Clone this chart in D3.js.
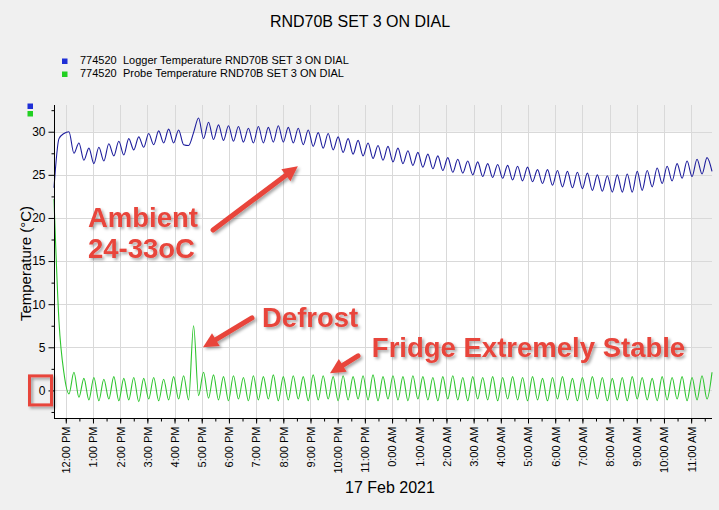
<!DOCTYPE html>
<html>
<head>
<meta charset="utf-8">
<script src="https://cdn.jsdelivr.net/npm/d3@7"></script>
<style>
  html, body { margin: 0; padding: 0; background: #f0f0f0; }
  svg { display: block; font-family: "Liberation Sans", Arial, sans-serif; }
</style>
</head>
<body>
<svg id="chart" width="719" height="510"></svg>
<script>
const chartTitle = 'RND70B SET 3 ON DIAL';
const loggerSerial = '774520';
const seriesNames = ['Logger Temperature RND70B SET 3 ON DIAL', 'Probe Temperature RND70B SET 3 ON DIAL'];
const dateLabel = '17 Feb 2021';
const yTitle = 'Temperature (°C)';
const yTickValues = [0, 5, 10, 15, 20, 25, 30];

const startTime = new Date(2021, 1, 17, 11, 34);
const stepMinutes = 11;

// logger (ambient) temperature, one reading per step
const loggerTemp = [
  23.5, 29.2, 29.8, 30.0, 27.5, 28.7, 26.7, 28.1, 26.3, 28.2,
  26.6, 28.6, 27.2, 28.9, 27.3, 29.2, 27.9, 29.4, 28.2, 29.8,
  28.5, 30.1, 28.7, 30.3, 28.7, 30.2, 28.5, 28.4, 29.9, 31.6,
  29.2, 31.1, 29.1, 30.8, 29.0, 30.7, 28.9, 30.6, 28.8, 30.4,
  28.7, 30.6, 28.7, 30.5, 28.8, 30.7, 28.8, 30.5, 28.7, 30.4,
  28.5, 30.2, 28.3, 29.9, 28.1, 29.8, 27.9, 29.4, 27.6, 29.2,
  27.4, 29.0, 27.2, 28.7, 26.9, 28.4, 26.7, 28.3, 26.5, 28.1,
  26.3, 27.8, 26.1, 27.6, 25.9, 27.4, 25.7, 27.2, 25.5, 27.0,
  25.3, 26.8, 25.2, 26.6, 25.0, 26.5, 24.8, 26.3, 24.7, 26.2,
  24.6, 26.1, 24.4, 26.0, 24.3, 25.9, 24.2, 25.6, 24.0, 25.6,
  23.8, 25.5, 23.6, 25.4, 23.5, 25.3, 23.4, 25.2, 23.2, 25.0,
  23.1, 24.9, 23.0, 25.0, 23.0, 25.1, 23.0, 25.4, 23.2, 25.5,
  23.6, 25.8, 24.0, 26.0, 24.3, 26.3, 24.6, 26.6, 24.8, 26.8,
  25.1, 27.0, 25.4
];

// probe (fridge) temperature, same readings
const probeTemp = [
  22.2, 8.0, 2.0, -0.4, 2.1, -0.8, 1.4, -1.1, 1.5, -1.2,
  1.3, -1.0, 1.6, -1.2, 1.4, -1.1, 1.5, -1.3, 1.4, -1.0,
  1.5, -1.2, 1.3, -1.1, 1.6, -1.0, 1.7, -1.1, 7.5, -0.6,
  2.1, -0.9, 1.8, -1.1, 1.6, -1.2, 1.7, -1.0, 1.5, -1.2,
  1.7, -1.1, 1.6, -1.0, 1.8, -1.2, 1.6, -1.1, 1.7, -1.0,
  1.6, -1.2, 1.8, -1.1, 1.7, -1.0, 1.6, -1.2, 1.7, -1.1,
  1.6, -1.0, 1.7, -1.1, 1.8, -1.2, 1.6, -1.0, 1.7, -1.1,
  1.6, -1.2, 1.7, -1.0, 1.6, -1.1, 1.5, -1.2, 1.6, -1.0,
  1.7, -1.1, 1.5, -1.2, 1.6, -1.0, 1.5, -1.1, 1.6, -1.2,
  1.5, -1.0, 1.6, -1.1, 1.5, -1.2, 1.6, -1.1, 1.4, -1.2,
  1.5, -1.0, 1.6, -1.1, 1.4, -1.2, 1.5, -1.1, 1.6, -1.0,
  1.5, -1.2, 1.4, -1.1, 1.5, -1.2, 1.6, -1.0, 1.5, -1.1,
  1.4, -1.2, 1.6, -1.1, 1.5, -1.0, 1.6, -1.2, 1.5, -1.1,
  1.7, -1.0, 2.1
];

// ---- layout ----
const width = 719, height = 510;
const plot = {left: 54, right: 712, top: 105, bottom: 418};
const lineColors = ['#1c1c9c', '#2fc52f'];
const keyColors = ['#1f2fd6', '#22d022'];
const red = '#e8443b';

const timeAt = i => new Date(+startTime + i * stepMinutes * 60000);
const loggerData = loggerTemp.map((v, i) => ({t: timeAt(i), v}));
const probeData = probeTemp.map((v, i) => ({t: timeAt(i), v}));

const x = d3.scaleTime()
  .domain([startTime, timeAt(loggerTemp.length - 1)])
  .range([plot.left, plot.right]);
const y = d3.scaleLinear()
  .domain([-3.2, 33.1])
  .range([plot.bottom, plot.top]);

const svg = d3.select('#chart');

const defs = svg.append('defs');
defs.append('filter')
  .attr('id', 'shadow')
  .attr('x', '-20%').attr('y', '-30%').attr('width', '150%').attr('height', '170%')
  .append('feDropShadow')
  .attr('dx', 2).attr('dy', 2).attr('stdDeviation', 1.6)
  .attr('flood-color', '#000').attr('flood-opacity', 0.35);

// title
svg.append('text')
  .attr('x', 360).attr('y', 27)
  .attr('text-anchor', 'middle')
  .attr('font-size', 16)
  .attr('fill', '#000')
  .text(chartTitle);

// legend
const legend = svg.append('g').attr('font-size', 11).attr('fill', '#000');
seriesNames.forEach((name, i) => {
  const ly = 64 + i * 13;
  legend.append('rect')
    .attr('x', 62).attr('y', ly - 5.5).attr('width', 5.5).attr('height', 5.5)
    .attr('fill', keyColors[i]);
  legend.append('text').attr('x', 80).attr('y', ly).text(loggerSerial);
  legend.append('text').attr('x', 123).attr('y', ly).text(name);
});

// small series markers above y axis
keyColors.forEach((c, i) => {
  svg.append('rect')
    .attr('x', 27.5).attr('y', 103.5 + i * 7.5).attr('width', 5.5).attr('height', 5.5)
    .attr('fill', c);
});

// white plotting zone (up to last full gridlines)
const hourTicks = x.ticks(d3.timeHour.every(1));
const lastHour = hourTicks[hourTicks.length - 1];
svg.append('rect')
  .attr('x', plot.left)
  .attr('y', y(d3.max(yTickValues)))
  .attr('width', x(lastHour) - plot.left)
  .attr('height', plot.bottom - y(d3.max(yTickValues)))
  .attr('fill', '#fff');

// grid
const grid = svg.append('g').attr('stroke', '#d9d9d9').attr('stroke-width', 1);
grid.selectAll('line.v')
  .data(hourTicks)
  .join('line')
  .attr('class', 'v')
  .attr('x1', d => Math.round(x(d)) + 0.5).attr('x2', d => Math.round(x(d)) + 0.5)
  .attr('y1', plot.top).attr('y2', plot.bottom);
grid.selectAll('line.h')
  .data(yTickValues)
  .join('line')
  .attr('class', 'h')
  .attr('x1', plot.left).attr('x2', plot.right)
  .attr('y1', d => Math.round(y(d)) + 0.5).attr('y2', d => Math.round(y(d)) + 0.5);

// series
const line = d3.line()
  .x(d => x(d.t))
  .y(d => y(d.v))
  .curve(d3.curveMonotoneX);

[loggerData, probeData].forEach((data, i) => {
  svg.append('path')
    .datum(data)
    .attr('fill', 'none')
    .attr('stroke', lineColors[i])
    .attr('stroke-width', 1.1)
    .attr('d', line);
});

// y axis
const minorY = d3.range(-2.5, 33, 2.5).filter(v => !yTickValues.includes(v));
svg.append('g')
  .attr('transform', `translate(${plot.left + 0.5},0)`)
  .call(d3.axisLeft(y).tickValues(minorY).tickSize(3).tickSizeOuter(0).tickFormat(''))
  .call(g => g.select('.domain').remove());
svg.append('g')
  .attr('transform', `translate(${plot.left + 0.5},0)`)
  .call(d3.axisLeft(y).tickValues(yTickValues).tickSize(6).tickPadding(3).tickSizeOuter(0))
  .call(g => g.selectAll('text').attr('font-size', 12).attr('font-family', null).attr('fill', '#000'))
  .call(g => g.select('.domain').attr('d', `M0,${plot.top}V${plot.bottom}`));

// x axis
const hourLabel = d => {
  const h = d.getHours();
  return (h === 12 ? 12 : h % 12) + ':00 ' + (h < 12 ? 'AM' : 'PM');
};
svg.append('g')
  .attr('transform', `translate(0,${plot.bottom + 0.5})`)
  .call(d3.axisBottom(x).ticks(d3.timeMinute.every(30)).tickSize(3).tickSizeOuter(0).tickFormat(''))
  .call(g => g.select('.domain').remove());
svg.append('g')
  .attr('transform', `translate(0,${plot.bottom + 0.5})`)
  .call(d3.axisBottom(x).tickValues(hourTicks).tickSize(5).tickSizeOuter(0).tickFormat(hourLabel))
  .call(g => g.select('.domain').attr('d', `M${plot.left},0H${plot.right}`))
  .call(g => g.selectAll('text')
    .attr('font-size', 11).attr('font-family', null).attr('fill', '#000')
    .attr('transform', 'rotate(-90)')
    .attr('x', -8).attr('y', 0).attr('dy', '0.35em')
    .attr('text-anchor', 'end'));

// axis titles
svg.append('text')
  .attr('x', 390).attr('y', 493)
  .attr('text-anchor', 'middle')
  .attr('font-size', 16)
  .text(dateLabel);
svg.append('text')
  .attr('transform', `translate(31,${(plot.top + plot.bottom) / 2 + 2}) rotate(-90)`)
  .attr('text-anchor', 'middle')
  .attr('font-size', 15)
  .text(yTitle);

// ---- hand-drawn callouts (positions in hours after start, °C) ----
const at = (h, v) => [x(new Date(+startTime + h * 3600000)), y(v)];
const notes = [
  {lines: ['Ambient', '24-33oC'], pos: [1.25, 18.9], lead: 3.6},
  {lines: ['Defrost'], pos: [7.65, 7.3], lead: 0},
  {lines: ['Fridge Extremely Stable'], pos: [11.69, 3.9], lead: 0}
];
const arrows = [
  {from: [5.85, 18.6], to: [8.97, 26.0]},
  {from: [7.28, 8.4], to: [5.48, 5.0]},
  {from: [11.18, 4.0], to: [10.15, 2.0]}
];

const callouts = svg.append('g').attr('filter', 'url(#shadow)');
notes.forEach(n => {
  const [nx, ny] = at(n.pos[0], n.pos[1]);
  const gap = y(0) - y(n.lead);
  n.lines.forEach((s, k) => {
    callouts.append('text')
      .attr('x', nx).attr('y', ny + k * gap)
      .attr('font-size', 27.5)
      .attr('font-weight', 'bold')
      .attr('fill', red)
      .text(s);
  });
});

arrows.forEach(a => {
  const [x0, y0] = at(a.from[0], a.from[1]);
  const [x1, y1] = at(a.to[0], a.to[1]);
  const ang = Math.atan2(y1 - y0, x1 - x0);
  const headLen = 15, headHalf = 7.5;
  const bx = x1 - headLen * Math.cos(ang), by = y1 - headLen * Math.sin(ang);
  callouts.append('line')
    .attr('x1', x0).attr('y1', y0).attr('x2', bx).attr('y2', by)
    .attr('stroke', red).attr('stroke-width', 5).attr('stroke-linecap', 'round');
  const nxp = -Math.sin(ang), nyp = Math.cos(ang);
  callouts.append('path')
    .attr('d', `M${x1},${y1}L${bx + nxp * headHalf},${by + nyp * headHalf}L${bx - nxp * headHalf},${by - nyp * headHalf}Z`)
    .attr('fill', red);
});

// box around the zero label
callouts.append('rect')
  .attr('x', 29.5).attr('y', y(0) - 14.5)
  .attr('width', 22).attr('height', 29)
  .attr('fill', 'none').attr('stroke', red).attr('stroke-width', 3);
</script>
</body>
</html>
